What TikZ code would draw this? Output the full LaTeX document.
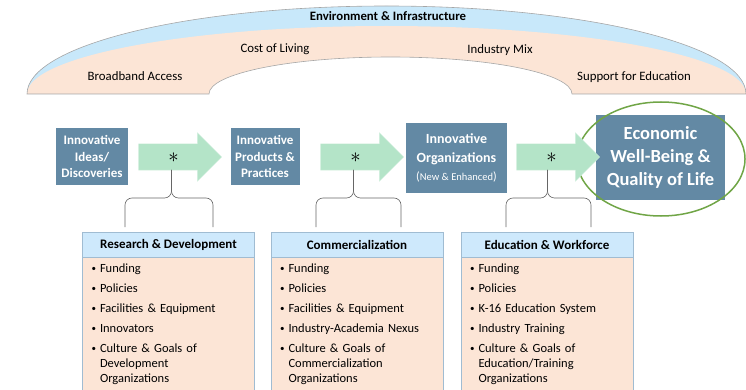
\documentclass[tikz,border=0pt]{standalone}
\usepackage{fontspec}
\setmainfont{Carlito}
\usetikzlibrary{positioning,shapes.arrows}

\definecolor{stageblue}{RGB}{99,137,164}
\definecolor{flowgreen}{RGB}{180,228,200}
\definecolor{headblue}{RGB}{206,233,252}
\definecolor{headline}{RGB}{160,188,210}
\definecolor{bodypeach}{RGB}{252,229,214}
\definecolor{archblue}{RGB}{200,232,250}
\definecolor{archpeach}{RGB}{252,229,214}
\definecolor{ringgreen}{RGB}{112,165,70}

\newcommand{\bitem}[1]{\par\hangindent=8.5pt\hangafter=1\noindent
  \makebox[8.5pt][l]{\raisebox{.8pt}{\fontsize{9}{9}\selectfont\textbullet}}#1\par\vspace{5pt}}

\begin{document}
\begin{tikzpicture}[x=1pt, y=-1pt,
    every node/.style = { font = \fontsize{12.8}{15}\selectfont },
    stagebox/.style = { fill = stageblue, text = white, align = center, inner sep = 0pt,
                        font = \bfseries\fontsize{13}{16.5}\selectfont },
    flowarrow/.style = { single arrow, fill = flowgreen, draw = flowgreen!60!white,
                         minimum height = 83pt, minimum width = 48pt,
                         single arrow head extend = 11pt, inner xsep = 0pt, inner ysep = 0pt,
                         text height = 18.3pt, text depth = 7.7pt, font = \fontsize{22}{22}\selectfont },
    bracket/.style = { draw = gray!80!black, line width = .6pt, rounded corners = 7pt },
    headbox/.style = { draw = headline, fill = headblue, minimum width = 172pt, minimum height = 25pt,
                       inner sep = 0pt, font = \bfseries\fontsize{13}{15}\selectfont },
    listbox/.style = { draw = headline, fill = bodypeach, text width = 154pt, align = left,
                       inner xsep = 9pt, inner ysep = 0pt, anchor = north,
                       font = \fontsize{12.5}{15}\selectfont },
    ring/.style = { draw = ringgreen, line width = 1.5pt }]

    \useasboundingbox (0,0) rectangle (746,390);

    % environment arch
    \fill[archblue] (27,94) arc[start angle = 180, end angle = 360, x radius = 359.5, y radius = 88] -- cycle;
    \fill[archpeach] (27,94) arc[start angle = 180, end angle = 360, x radius = 359.5, y radius = 68] -- cycle;
    \fill[white] (209,94) arc[start angle = 180, end angle = 360, x radius = 181.5, y radius = 37] -- cycle;
    \draw[gray!70, line width = .6pt] (27,94) arc[start angle = 180, end angle = 360, x radius = 359.5, y radius = 88]
      -- (572,94) arc[start angle = 360, end angle = 180, x radius = 181.5, y radius = 37] -- cycle;

    \node[font = \bfseries\fontsize{12.8}{15}\selectfont] (env) at (388,16) {Environment \& Infrastructure};
    \node (col) at (275,49) {Cost of Living};
    \node (ind) at (500,50) {Industry Mix};
    \node (bba) at (135,76) {Broadband Access};
    \node (sfe) at (634,77) {Support for Education};

    % stages
    \node[stagebox, minimum width = 72pt, minimum height = 57pt] (s1) at (92,156.5) { Innovative\\Ideas/\\Discoveries };
    \node[stagebox, minimum width = 69pt, minimum height = 56pt] (s2) at (265,156.5) { Innovative\\Products \&\\Practices };
    \node[stagebox, minimum width = 101pt, minimum height = 70pt, font = \bfseries\fontsize{14}{19}\selectfont] (s3) at (456.5,158)
      { Innovative\\Organizations\\[-1.5pt]{\mdseries\fontsize{12}{12}\selectfont ({\fontsize{10.5}{12}\selectfont New \& Enhanced})} };
    \node[stagebox, minimum width = 129pt, minimum height = 85pt, font = \bfseries\fontsize{18.5}{23}\selectfont] (s4) at (660.5,157.5)
      { Economic\\Well-Being \&\\Quality of Life };
    \draw[ring] (661,159) ellipse [x radius = 84, y radius = 57];

    % arrows
    \node[flowarrow] (a1) at (173.5,157) {$\ast$\hspace{9pt}};
    \node[flowarrow] (a2) at (355.5,157) {$\ast$\hspace{9pt}};
    \node[flowarrow] (a3) at (551.5,157) {$\ast$\hspace{12pt}};

    % factor boxes
    \node[headbox] (h1) at (168.5,244.5) {Research \& Development};
    \node[listbox, below = 0pt of h1] (l1) {
      \bitem{Funding}\bitem{Policies}\bitem{Facilities \& Equipment}\bitem{Innovators}
      \bitem{Culture \& Goals of\newline Development\newline Organizations}\rule{0pt}{20pt} };
    \node[headbox] (h2) at (357,244.5) {Commercialization};
    \node[listbox, below = 0pt of h2] (l2) {
      \bitem{Funding}\bitem{Policies}\bitem{Facilities \& Equipment}\bitem{Industry-Academia Nexus}
      \bitem{Culture \& Goals of\newline Commercialization\newline Organizations}\rule{0pt}{20pt} };
    \node[headbox] (h3) at (547,244.5) {Education \& Workforce};
    \node[listbox, below = 0pt of h3] (l3) {
      \bitem{Funding}\bitem{Policies}\bitem{K-16 Education System}\bitem{Industry Training}
      \bitem{Culture \& Goals of\newline Education/Training\newline Organizations}\rule{0pt}{20pt} };

    % braces
    \draw[bracket] (a1.center) ++(-2,13) |- (125,198) -- (125,227);
    \draw[bracket] (a1.center) ++(-2,13) |- (213,198) -- (213,227);
    \draw[bracket] (a2.center) ++(-2,13) |- (316,198) -- (316,227);
    \draw[bracket] (a2.center) ++(-2,13) |- (401,198) -- (401,227);
    \draw[bracket] (a3.center) ++(-4,13) |- (506,198) -- (506,227);
    \draw[bracket] (a3.center) ++(-4,13) |- (591,198) -- (591,227);
\end{tikzpicture}
\end{document}
